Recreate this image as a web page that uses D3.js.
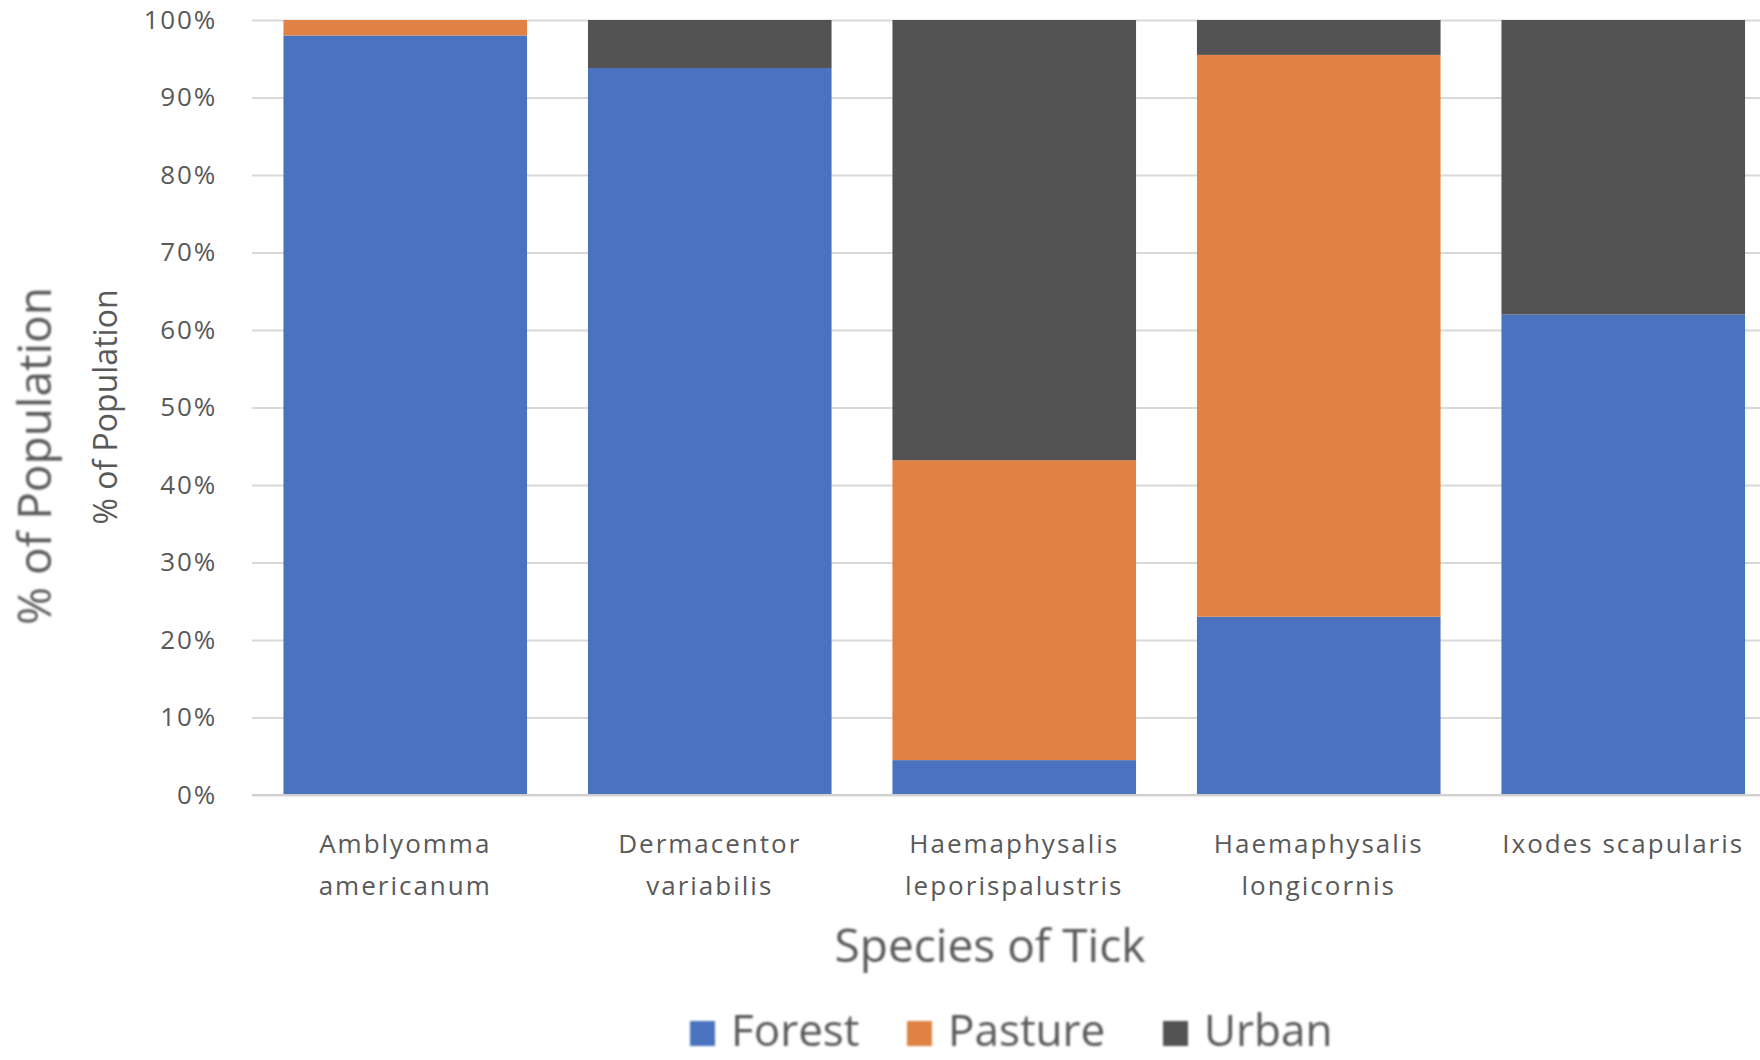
<!DOCTYPE html>
<html>
<head>
<meta charset="utf-8">
<script src="https://cdn.jsdelivr.net/npm/d3@7"></script>
<style>
  html, body { margin: 0; padding: 0; background: #ffffff; }
  svg { display: block; }
  text { font-family: "Open Sans", "Noto Sans", sans-serif; fill: #595959; }
</style>
</head>
<body>
<svg id="chart" width="1760" height="1060"></svg>
<script>
// Tick species and the share of each population found in each habitat (%)
const categories = [
  "Amblyomma|americanum",
  "Dermacentor|variabilis",
  "Haemaphysalis|leporispalustris",
  "Haemaphysalis|longicornis",
  "Ixodes scapularis"
];
const forest  = [98.0, 93.8, 4.5, 23.0, 62.0];
const pasture = [2.0, 0.0, 38.7, 72.5, 0.0];
const urban   = [0.0, 6.2, 56.8, 4.5, 38.0];

const seriesNames = ["Forest", "Pasture", "Urban"];
const seriesColors = ["#4a72bf", "#df8243", "#535353"];
const yTicks = [0, 10, 20, 30, 40, 50, 60, 70, 80, 90, 100];

const svg = d3.select("#chart");
const W = 1760, H = 1060;
const plot = { left: 253, right: 1775.5, top: 20, bottom: 795 };

// soft focus used on the large titles and legend
const defs = svg.append("defs");
defs.append("filter").attr("id", "soft")
  .attr("x", "-10%").attr("y", "-10%").attr("width", "120%").attr("height", "120%")
  .append("feGaussianBlur").attr("stdDeviation", 0.8);

const x = d3.scaleBand()
  .domain(categories)
  .range([plot.left, plot.right])
  .paddingInner(0.2)
  .paddingOuter(0.1);

const y = d3.scaleLinear().domain([0, 100]).range([plot.bottom, plot.top]);

// horizontal gridlines and percent labels
const yAxis = d3.axisLeft(y)
  .tickValues(yTicks)
  .tickSize(-(W - 252))
  .tickPadding(35)
  .tickFormat(d => d + "%");

const gy = svg.append("g").attr("transform", "translate(252,0)").call(yAxis);
gy.select(".domain").remove();
gy.selectAll(".tick line").attr("stroke", "#d9d9d9").attr("stroke-width", 2);
gy.selectAll(".tick text")
  .attr("font-size", 26)
  .attr("letter-spacing", 1.8)
  .attr("fill", "#595959");

// stacked bars
const rows = categories.map((c, i) => ({ cat: c, Forest: forest[i], Pasture: pasture[i], Urban: urban[i] }));
const stack = d3.stack().keys(seriesNames)(rows);

svg.append("g").selectAll("g")
  .data(stack)
  .join("g")
  .attr("fill", (d, i) => seriesColors[i])
  .selectAll("rect")
  .data(d => d)
  .join("rect")
  .attr("x", d => x(d.data.cat))
  .attr("width", x.bandwidth())
  .attr("y", d => y(d[1]))
  .attr("height", d => y(d[0]) - y(d[1]));

// baseline
svg.append("line")
  .attr("x1", 252).attr("x2", W)
  .attr("y1", y(0)).attr("y2", y(0))
  .attr("stroke", "#d0d0d0").attr("stroke-width", 2);

// category labels, wrapped on "|"
const xl = svg.append("g");
categories.forEach(c => {
  const lines = c.split("|");
  const t = xl.append("text")
    .attr("text-anchor", "middle")
    .attr("font-size", 26)
    .attr("letter-spacing", 2)
    .attr("fill", "#595959");
  lines.forEach((ln, k) => {
    t.append("tspan")
      .attr("x", x(c) + x.bandwidth() / 2)
      .attr("y", 853 + k * 42)
      .text(ln);
  });
});

// axis titles
svg.append("text")
  .attr("x", 990).attr("y", 962)
  .attr("text-anchor", "middle")
  .attr("font-size", 46)
  .attr("fill", "#595959")
  .attr("filter", "url(#soft)")
  .text("Species of Tick");

svg.append("text")
  .attr("transform", "translate(51,456) rotate(-90)")
  .attr("text-anchor", "middle")
  .attr("font-size", 46)
  .attr("fill", "#666666")
  .attr("filter", "url(#soft)")
  .text("% of Population");

svg.append("text")
  .attr("transform", "translate(117,407) rotate(-90)")
  .attr("text-anchor", "middle")
  .attr("font-size", 32)
  .attr("fill", "#595959")
  .text("% of Population");

// legend
const legendX = [690, 907, 1163];
const lg = svg.append("g").attr("filter", "url(#soft)");
seriesNames.forEach((name, i) => {
  lg.append("rect")
    .attr("x", legendX[i]).attr("y", 1021)
    .attr("width", 25).attr("height", 25)
    .attr("fill", seriesColors[i]);
  lg.append("text")
    .attr("x", legendX[i] + 41).attr("y", 1046)
    .attr("font-size", 44)
    .attr("fill", "#595959")
    .text(name);
});
</script>
</body>
</html>
